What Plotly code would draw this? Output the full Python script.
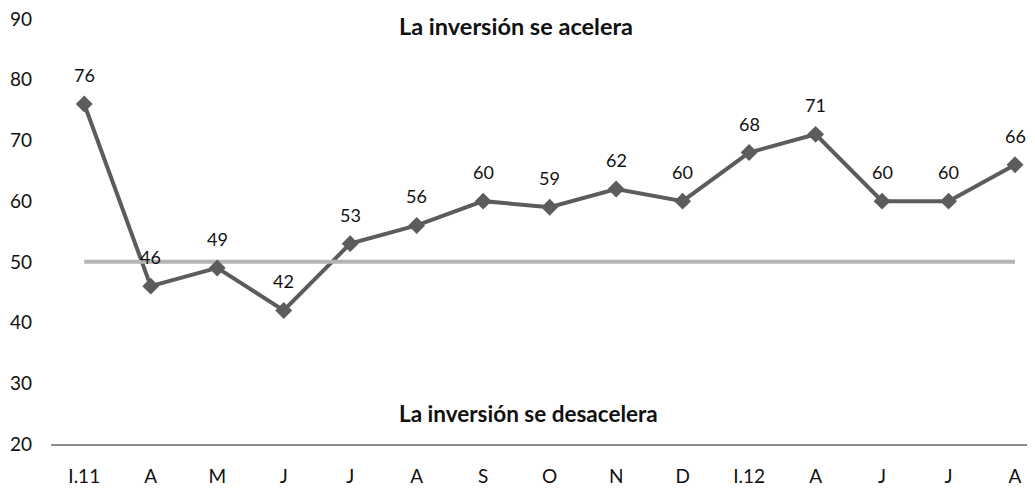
import plotly.graph_objects as go

categories = ["I.11", "A", "M", "J", "J", "A", "S", "O", "N", "D", "I.12", "A", "J", "J", "A"]
values = [76, 46, 49, 42, 53, 56, 60, 59, 62, 60, 68, 71, 60, 60, 66]
threshold = [50] * len(categories)
title_up = "La inversión se acelera"
title_down = "La inversión se desacelera"

x = list(range(len(categories)))
FONT = "Lato, 'Open Sans', sans-serif"
DARK = "#5c5c5c"

fig = go.Figure()
fig.add_trace(go.Scatter(
    x=x, y=values, mode="lines",
    line=dict(color=DARK, width=4),
    showlegend=False, cliponaxis=False,
))
fig.add_trace(go.Scatter(
    x=x, y=threshold, mode="lines",
    line=dict(color="#b4b4b4", width=4),
    hoverinfo="skip", showlegend=False, cliponaxis=False,
))
fig.add_trace(go.Scatter(
    x=x, y=values, mode="markers",
    marker=dict(symbol="diamond", size=13, color=DARK),
    showlegend=False, cliponaxis=False,
))

for xi, v in zip(x, values):
    fig.add_annotation(x=xi, y=v, xref="x", yref="y", text=str(v), showarrow=False,
                       yshift=29, font=dict(family=FONT, size=18, color="#111111"))

fig.add_annotation(x=6.50, y=88.8, xref="x", yref="y", text="<b>" + title_up + "</b>",
                   showarrow=False, font=dict(family=FONT, size=23.5, color="#111111"))
fig.add_annotation(x=6.68, y=25.0, xref="x", yref="y", text="<b>" + title_down + "</b>",
                   showarrow=False, font=dict(family=FONT, size=22.5, color="#111111"))

fig.update_layout(
    width=1027, height=480,
    margin=dict(l=43, r=0, t=11, b=44),
    paper_bgcolor="white", plot_bgcolor="white",
    font=dict(family=FONT, size=18, color="#111111"),
    xaxis=dict(
        range=[-0.5, 14.3], tickmode="array", tickvals=x, ticktext=categories,
        showgrid=False, zeroline=False, showline=True, linecolor="#8c8c8c", linewidth=1.5,
        ticks="", automargin=False, ticklabelstandoff=14, ticklabeloverflow="allow",
        tickfont=dict(family=FONT, size=19, color="#111111"),
    ),
    yaxis=dict(
        range=[20, 90], dtick=10, tick0=20, showgrid=False, zeroline=False, showline=False,
        ticks="", automargin=False, ticklabelstandoff=18, ticklabeloverflow="allow",
        tickfont=dict(family=FONT, size=19, color="#111111"),
    ),
)

fig.write_html("out.html")
